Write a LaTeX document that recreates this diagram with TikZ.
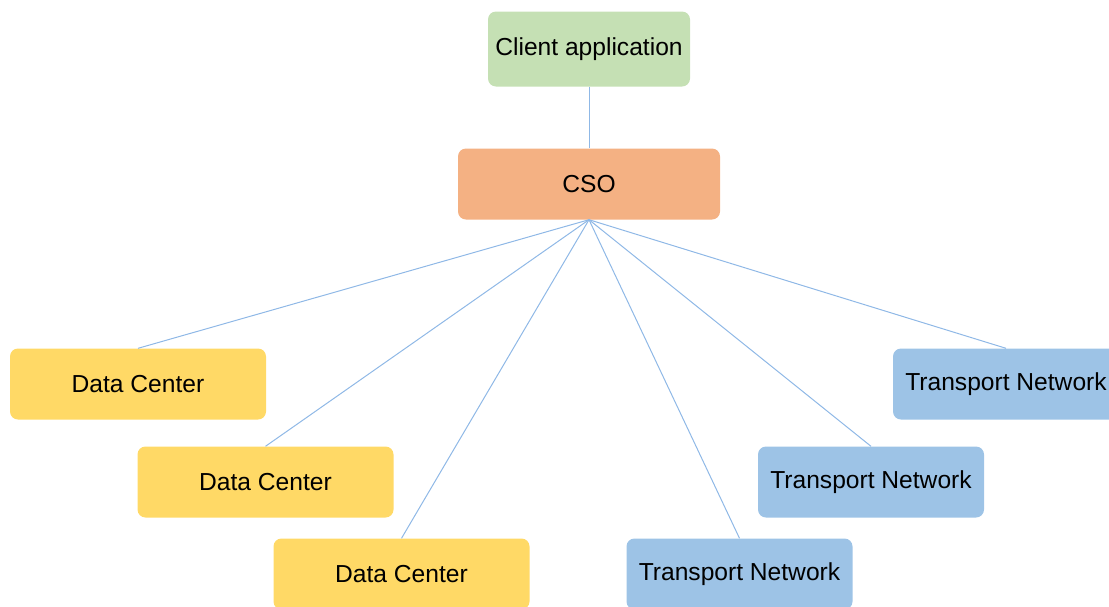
\documentclass[tikz,border=0pt]{standalone}
\usepackage{fontspec}
\setmainfont{Liberation Sans}
\usepackage{tikz}
\usetikzlibrary{arrows}

\definecolor{appgreen}{HTML}{C5E0B4}
\definecolor{csoorange}{HTML}{F4B183}
\definecolor{dcyellow}{HTML}{FFD966}
\definecolor{tnblue}{HTML}{9DC3E6}
\definecolor{linkblue}{HTML}{8FB8E6}

\begin{document}
\begin{tikzpicture}[x=1pt,y=-1pt,-,
                    box node/.style={rounded corners=8pt,inner sep=0pt,
                      minimum height=71pt,font=\fontsize{24.6}{28}\selectfont},
                    app node/.style={box node,fill=appgreen,minimum width=202pt,minimum height=75pt},
                    cso node/.style={box node,fill=csoorange,minimum width=262pt},
                    dc node/.style={box node,fill=dcyellow,minimum width=256pt},
                    tn node/.style={box node,fill=tnblue,minimum width=226pt}]

  \clip (0,0) rectangle (1109,606);
  \useasboundingbox (0,0) rectangle (1109,606);

  \node[app node] (1) at (589,49) {Client application};
  \node[cso node] (2) at (589,184) {CSO};
  \node[dc node] (3) at (138,384) {Data Center};
  \node[dc node] (4) at (265.5,482) {Data Center};
  \node[dc node] (5) at (401.5,574) {Data Center};
  \node[tn node] (6) at (739.5,574) {Transport Network};
  \node[tn node] (7) at (871,482) {Transport Network};
  \node[tn node] (8) at (1006,384) {Transport Network};

  \path[draw=linkblue,line width=1pt]
    (1) edge (2)
    (2.south) edge (3.north)
    	edge (4.north)
    	edge (5.north)
    	edge (6.north)
    	edge (7.north)
    	edge (8.north);
\end{tikzpicture}
\end{document}
